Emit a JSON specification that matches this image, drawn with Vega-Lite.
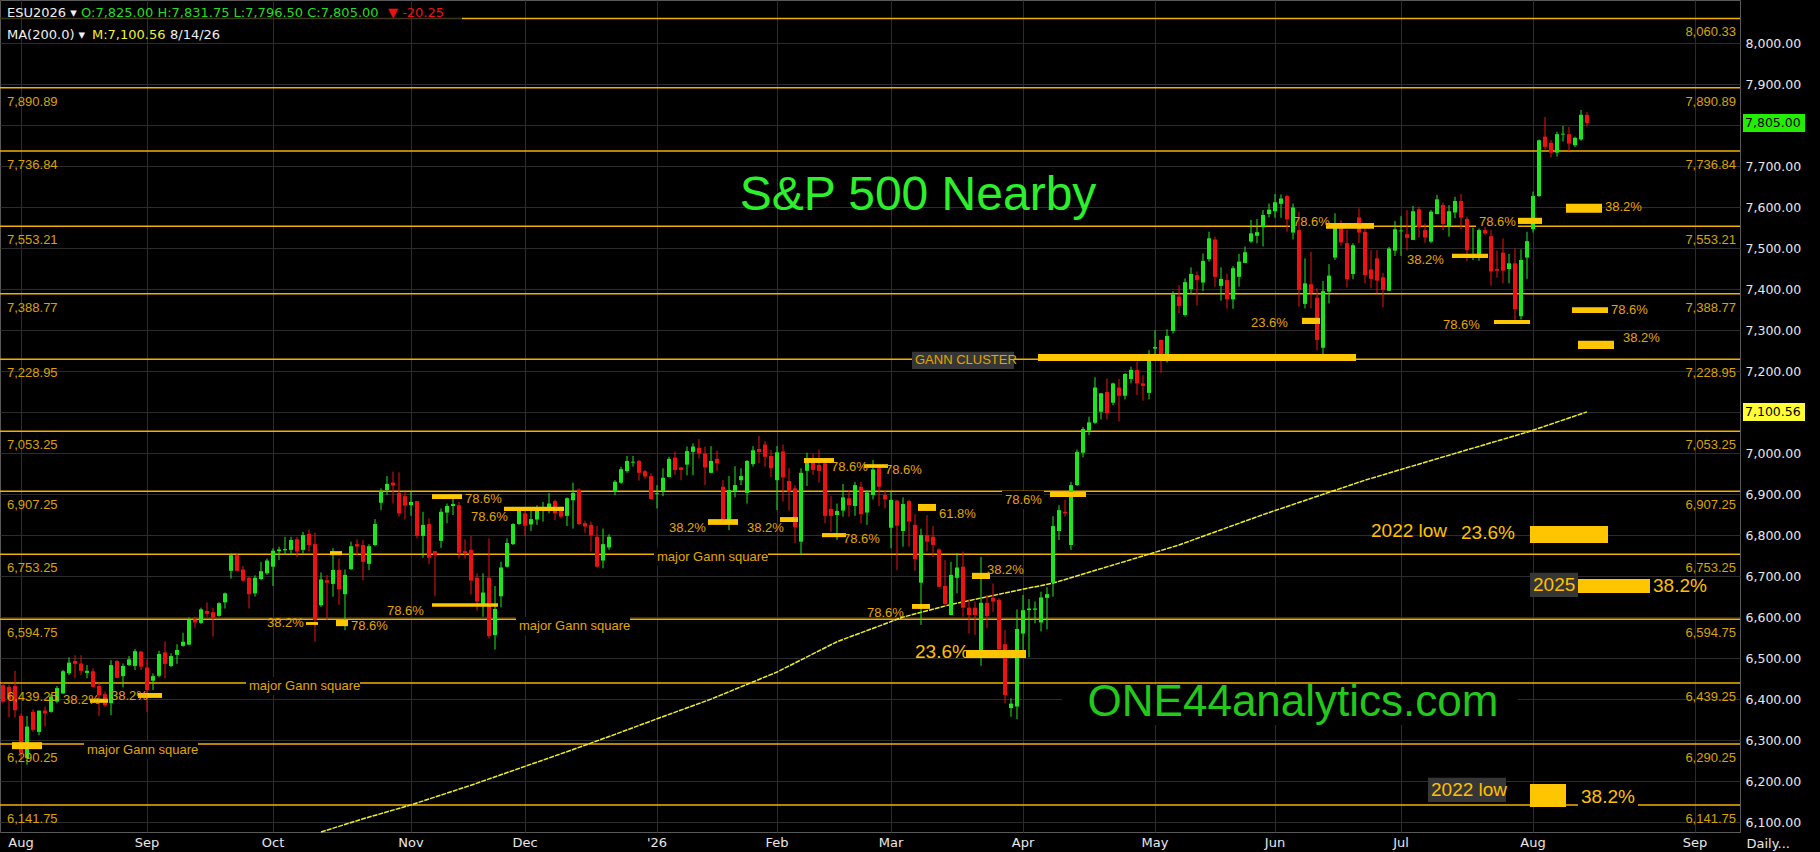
{
"$schema":"https://vega.github.io/schema/vega-lite/v6.json",
"width":1740,"height":832,
"autosize":{"type":"none"},
"padding":{"left":0,"top":0,"right":80,"bottom":20},
"background":"#000000",
"config":{"view":{"stroke":"#5a5a5a","strokeWidth":1},"scale":{"bandPaddingInner":0,"bandPaddingOuter":0}},
"datasets":{
"c":[
{"d":"2025-07-29","o":6434,"h":6440,"l":6390,"c":6394},
{"d":"2025-07-30","o":6430,"h":6435,"l":6356,"c":6400},
{"d":"2025-07-31","o":6432,"h":6469,"l":6355,"c":6373},
{"d":"2025-08-01","o":6359,"h":6365,"l":6252,"c":6268},
{"d":"2025-08-04","o":6256,"h":6359,"l":6240,"c":6333},
{"d":"2025-08-05","o":6369,"h":6375,"l":6320,"c":6325},
{"d":"2025-08-06","o":6320,"h":6372,"l":6312,"c":6372},
{"d":"2025-08-07","o":6372,"h":6382,"l":6333,"c":6365},
{"d":"2025-08-08","o":6369,"h":6412,"l":6367,"c":6406},
{"d":"2025-08-11","o":6394,"h":6432,"l":6390,"c":6427},
{"d":"2025-08-12","o":6414,"h":6471,"l":6412,"c":6468},
{"d":"2025-08-13","o":6463,"h":6502,"l":6459,"c":6489},
{"d":"2025-08-14","o":6493,"h":6507,"l":6451,"c":6486},
{"d":"2025-08-15","o":6487,"h":6507,"l":6459,"c":6469},
{"d":"2025-08-18","o":6464,"h":6483,"l":6451,"c":6469},
{"d":"2025-08-19","o":6468,"h":6475,"l":6429,"c":6430},
{"d":"2025-08-20","o":6432,"h":6440,"l":6359,"c":6410},
{"d":"2025-08-21","o":6412,"h":6418,"l":6381,"c":6385},
{"d":"2025-08-22","o":6390,"h":6495,"l":6361,"c":6483},
{"d":"2025-08-25","o":6493,"h":6495,"l":6451,"c":6452},
{"d":"2025-08-26","o":6456,"h":6487,"l":6429,"c":6481},
{"d":"2025-08-27","o":6483,"h":6505,"l":6481,"c":6497},
{"d":"2025-08-28","o":6481,"h":6522,"l":6471,"c":6517},
{"d":"2025-08-29","o":6516,"h":6518,"l":6471,"c":6479},
{"d":"2025-09-02","o":6477,"h":6497,"l":6369,"c":6422},
{"d":"2025-09-03","o":6445,"h":6463,"l":6422,"c":6456},
{"d":"2025-09-04","o":6457,"h":6518,"l":6453,"c":6510},
{"d":"2025-09-05","o":6514,"h":6541,"l":6451,"c":6486},
{"d":"2025-09-08","o":6481,"h":6512,"l":6478,"c":6505},
{"d":"2025-09-09","o":6508,"h":6534,"l":6486,"c":6520},
{"d":"2025-09-10","o":6530,"h":6562,"l":6528,"c":6540},
{"d":"2025-09-11","o":6533,"h":6599,"l":6532,"c":6593},
{"d":"2025-09-12","o":6594,"h":6601,"l":6574,"c":6587},
{"d":"2025-09-15","o":6586,"h":6623,"l":6583,"c":6619},
{"d":"2025-09-16","o":6615,"h":6636,"l":6601,"c":6608},
{"d":"2025-09-17","o":6612,"h":6623,"l":6552,"c":6599},
{"d":"2025-09-18","o":6603,"h":6636,"l":6601,"c":6634},
{"d":"2025-09-19","o":6636,"h":6660,"l":6621,"c":6658},
{"d":"2025-09-22","o":6713,"h":6755,"l":6694,"c":6751},
{"d":"2025-09-23","o":6751,"h":6755,"l":6712,"c":6713},
{"d":"2025-09-24","o":6716,"h":6725,"l":6686,"c":6689},
{"d":"2025-09-25","o":6696,"h":6699,"l":6621,"c":6656},
{"d":"2025-09-26","o":6658,"h":6702,"l":6650,"c":6696},
{"d":"2025-09-29","o":6693,"h":6735,"l":6690,"c":6712},
{"d":"2025-09-30","o":6707,"h":6743,"l":6703,"c":6738},
{"d":"2025-10-01","o":6723,"h":6768,"l":6676,"c":6762},
{"d":"2025-10-02","o":6761,"h":6772,"l":6739,"c":6765},
{"d":"2025-10-03","o":6763,"h":6796,"l":6752,"c":6766},
{"d":"2025-10-06","o":6764,"h":6796,"l":6751,"c":6788},
{"d":"2025-10-07","o":6790,"h":6796,"l":6747,"c":6760},
{"d":"2025-10-08","o":6764,"h":6808,"l":6755,"c":6800},
{"d":"2025-10-09","o":6803,"h":6814,"l":6760,"c":6776},
{"d":"2025-10-10","o":6778,"h":6806,"l":6540,"c":6593},
{"d":"2025-10-13","o":6629,"h":6709,"l":6625,"c":6692},
{"d":"2025-10-14","o":6690,"h":6703,"l":6593,"c":6684},
{"d":"2025-10-15","o":6681,"h":6768,"l":6650,"c":6715},
{"d":"2025-10-16","o":6715,"h":6743,"l":6630,"c":6668},
{"d":"2025-10-17","o":6656,"h":6716,"l":6568,"c":6703},
{"d":"2025-10-20","o":6717,"h":6784,"l":6715,"c":6773},
{"d":"2025-10-21","o":6778,"h":6790,"l":6751,"c":6772},
{"d":"2025-10-22","o":6776,"h":6788,"l":6690,"c":6735},
{"d":"2025-10-23","o":6730,"h":6778,"l":6715,"c":6773},
{"d":"2025-10-24","o":6776,"h":6839,"l":6773,"c":6827},
{"d":"2025-10-27","o":6879,"h":6914,"l":6861,"c":6908},
{"d":"2025-10-28","o":6910,"h":6944,"l":6898,"c":6925},
{"d":"2025-10-29","o":6928,"h":6955,"l":6877,"c":6921},
{"d":"2025-10-30","o":6903,"h":6953,"l":6845,"c":6853},
{"d":"2025-10-31","o":6895,"h":6906,"l":6838,"c":6872},
{"d":"2025-11-03","o":6873,"h":6906,"l":6847,"c":6881},
{"d":"2025-11-04","o":6883,"h":6883,"l":6792,"c":6798},
{"d":"2025-11-05","o":6798,"h":6857,"l":6745,"c":6825},
{"d":"2025-11-06","o":6827,"h":6841,"l":6729,"c":6745},
{"d":"2025-11-07","o":6761,"h":6761,"l":6651,"c":6751},
{"d":"2025-11-10","o":6786,"h":6865,"l":6769,"c":6857},
{"d":"2025-11-11","o":6855,"h":6877,"l":6829,"c":6871},
{"d":"2025-11-12","o":6871,"h":6900,"l":6849,"c":6876},
{"d":"2025-11-13","o":6873,"h":6881,"l":6743,"c":6757},
{"d":"2025-11-14","o":6761,"h":6790,"l":6743,"c":6754},
{"d":"2025-11-17","o":6764,"h":6798,"l":6655,"c":6689},
{"d":"2025-11-18","o":6696,"h":6707,"l":6616,"c":6638},
{"d":"2025-11-19","o":6627,"h":6707,"l":6601,"c":6660},
{"d":"2025-11-20","o":6696,"h":6792,"l":6548,"c":6554},
{"d":"2025-11-21","o":6556,"h":6676,"l":6521,"c":6620},
{"d":"2025-11-24","o":6651,"h":6735,"l":6624,"c":6721},
{"d":"2025-11-25","o":6723,"h":6792,"l":6721,"c":6781},
{"d":"2025-11-26","o":6778,"h":6829,"l":6776,"c":6827},
{"d":"2025-11-28","o":6827,"h":6865,"l":6825,"c":6859},
{"d":"2025-12-01","o":6853,"h":6861,"l":6798,"c":6823},
{"d":"2025-12-02","o":6826,"h":6865,"l":6810,"c":6839},
{"d":"2025-12-03","o":6838,"h":6873,"l":6825,"c":6863},
{"d":"2025-12-04","o":6865,"h":6881,"l":6833,"c":6867},
{"d":"2025-12-05","o":6861,"h":6903,"l":6853,"c":6877},
{"d":"2025-12-08","o":6883,"h":6887,"l":6837,"c":6853},
{"d":"2025-12-09","o":6863,"h":6869,"l":6841,"c":6845},
{"d":"2025-12-10","o":6847,"h":6892,"l":6822,"c":6890},
{"d":"2025-12-11","o":6885,"h":6928,"l":6816,"c":6903},
{"d":"2025-12-12","o":6911,"h":6914,"l":6825,"c":6827},
{"d":"2025-12-15","o":6829,"h":6835,"l":6806,"c":6821},
{"d":"2025-12-16","o":6825,"h":6833,"l":6760,"c":6799},
{"d":"2025-12-17","o":6796,"h":6822,"l":6721,"c":6723},
{"d":"2025-12-18","o":6738,"h":6816,"l":6719,"c":6778},
{"d":"2025-12-19","o":6770,"h":6802,"l":6764,"c":6796},
{"d":"2025-12-22","o":6906,"h":6934,"l":6898,"c":6930},
{"d":"2025-12-23","o":6928,"h":6967,"l":6925,"c":6961},
{"d":"2025-12-24","o":6956,"h":6993,"l":6952,"c":6981},
{"d":"2025-12-26","o":6977,"h":6993,"l":6967,"c":6979},
{"d":"2025-12-29","o":6981,"h":6983,"l":6933,"c":6952},
{"d":"2025-12-30","o":6956,"h":6959,"l":6938,"c":6943},
{"d":"2025-12-31","o":6944,"h":6951,"l":6888,"c":6888},
{"d":"2026-01-02","o":6900,"h":6922,"l":6865,"c":6902},
{"d":"2026-01-05","o":6908,"h":6963,"l":6895,"c":6940},
{"d":"2026-01-06","o":6942,"h":6991,"l":6941,"c":6986},
{"d":"2026-01-07","o":6989,"h":7003,"l":6947,"c":6959},
{"d":"2026-01-08","o":6965,"h":6967,"l":6934,"c":6959},
{"d":"2026-01-09","o":6972,"h":7016,"l":6946,"c":7005},
{"d":"2026-01-12","o":7003,"h":7024,"l":6946,"c":7016},
{"d":"2026-01-13","o":7013,"h":7034,"l":6987,"c":6999},
{"d":"2026-01-14","o":6999,"h":7016,"l":6922,"c":6965},
{"d":"2026-01-15","o":6952,"h":7017,"l":6951,"c":6981},
{"d":"2026-01-16","o":6986,"h":7006,"l":6957,"c":6975},
{"d":"2026-01-20","o":6918,"h":6934,"l":6827,"c":6827},
{"d":"2026-01-21","o":6835,"h":6944,"l":6812,"c":6910},
{"d":"2026-01-22","o":6908,"h":6968,"l":6892,"c":6922},
{"d":"2026-01-23","o":6934,"h":6963,"l":6922,"c":6944},
{"d":"2026-01-26","o":6903,"h":6983,"l":6877,"c":6981},
{"d":"2026-01-27","o":6973,"h":7017,"l":6967,"c":7007},
{"d":"2026-01-28","o":7010,"h":7042,"l":6975,"c":7003},
{"d":"2026-01-29","o":7021,"h":7029,"l":6967,"c":6991},
{"d":"2026-01-30","o":6993,"h":7008,"l":6942,"c":6963},
{"d":"2026-02-02","o":6934,"h":7017,"l":6861,"c":7002},
{"d":"2026-02-03","o":7004,"h":7021,"l":6882,"c":6941},
{"d":"2026-02-04","o":6932,"h":6963,"l":6860,"c":6906},
{"d":"2026-02-05","o":6914,"h":6922,"l":6781,"c":6819},
{"d":"2026-02-06","o":6784,"h":6963,"l":6751,"c":6952},
{"d":"2026-02-09","o":6957,"h":7001,"l":6920,"c":6983},
{"d":"2026-02-10","o":6983,"h":6999,"l":6947,"c":6959},
{"d":"2026-02-11","o":6971,"h":7009,"l":6928,"c":6957},
{"d":"2026-02-12","o":6975,"h":6985,"l":6829,"c":6847},
{"d":"2026-02-13","o":6864,"h":6895,"l":6808,"c":6847},
{"d":"2026-02-17","o":6849,"h":6877,"l":6788,"c":6859},
{"d":"2026-02-18","o":6860,"h":6925,"l":6845,"c":6892},
{"d":"2026-02-19","o":6890,"h":6910,"l":6845,"c":6873},
{"d":"2026-02-20","o":6871,"h":6930,"l":6847,"c":6922},
{"d":"2026-02-23","o":6918,"h":6930,"l":6829,"c":6851},
{"d":"2026-02-24","o":6855,"h":6910,"l":6825,"c":6904},
{"d":"2026-02-25","o":6898,"h":6983,"l":6887,"c":6960},
{"d":"2026-02-26","o":6963,"h":6969,"l":6871,"c":6918},
{"d":"2026-02-27","o":6898,"h":6910,"l":6865,"c":6887},
{"d":"2026-03-02","o":6818,"h":6908,"l":6768,"c":6886},
{"d":"2026-03-03","o":6884,"h":6886,"l":6715,"c":6823},
{"d":"2026-03-04","o":6810,"h":6892,"l":6772,"c":6876},
{"d":"2026-03-05","o":6883,"h":6886,"l":6772,"c":6833},
{"d":"2026-03-06","o":6825,"h":6851,"l":6713,"c":6741},
{"d":"2026-03-09","o":6684,"h":6816,"l":6581,"c":6800},
{"d":"2026-03-10","o":6800,"h":6849,"l":6760,"c":6784},
{"d":"2026-03-11","o":6796,"h":6822,"l":6747,"c":6776},
{"d":"2026-03-12","o":6765,"h":6768,"l":6674,"c":6674},
{"d":"2026-03-13","o":6676,"h":6739,"l":6627,"c":6632},
{"d":"2026-03-16","o":6605,"h":6735,"l":6605,"c":6703},
{"d":"2026-03-17","o":6696,"h":6756,"l":6658,"c":6721},
{"d":"2026-03-18","o":6723,"h":6760,"l":6601,"c":6623},
{"d":"2026-03-19","o":6623,"h":6644,"l":6560,"c":6605},
{"d":"2026-03-20","o":6623,"h":6638,"l":6556,"c":6605},
{"d":"2026-03-23","o":6508,"h":6747,"l":6481,"c":6635},
{"d":"2026-03-24","o":6635,"h":6654,"l":6573,"c":6603},
{"d":"2026-03-25","o":6647,"h":6682,"l":6613,"c":6638},
{"d":"2026-03-26","o":6642,"h":6646,"l":6516,"c":6521},
{"d":"2026-03-27","o":6534,"h":6569,"l":6390,"c":6410},
{"d":"2026-03-30","o":6378,"h":6402,"l":6357,"c":6389},
{"d":"2026-03-31","o":6382,"h":6619,"l":6351,"c":6571},
{"d":"2026-04-01","o":6560,"h":6654,"l":6502,"c":6617},
{"d":"2026-04-02","o":6617,"h":6644,"l":6502,"c":6621},
{"d":"2026-04-03","o":6618,"h":6638,"l":6585,"c":6621},
{"d":"2026-04-06","o":6587,"h":6662,"l":6565,"c":6648},
{"d":"2026-04-07","o":6647,"h":6673,"l":6570,"c":6656},
{"d":"2026-04-08","o":6684,"h":6846,"l":6650,"c":6822},
{"d":"2026-04-09","o":6810,"h":6873,"l":6788,"c":6861},
{"d":"2026-04-10","o":6857,"h":6886,"l":6845,"c":6853},
{"d":"2026-04-13","o":6776,"h":6930,"l":6764,"c":6922},
{"d":"2026-04-14","o":6922,"h":7009,"l":6920,"c":7003},
{"d":"2026-04-15","o":7001,"h":7064,"l":6990,"c":7059},
{"d":"2026-04-16","o":7055,"h":7089,"l":7044,"c":7075},
{"d":"2026-04-17","o":7074,"h":7185,"l":7071,"c":7160},
{"d":"2026-04-20","o":7101,"h":7147,"l":7082,"c":7146},
{"d":"2026-04-21","o":7149,"h":7182,"l":7082,"c":7097},
{"d":"2026-04-22","o":7123,"h":7172,"l":7117,"c":7170},
{"d":"2026-04-23","o":7160,"h":7181,"l":7077,"c":7140},
{"d":"2026-04-24","o":7140,"h":7195,"l":7131,"c":7193},
{"d":"2026-04-27","o":7181,"h":7211,"l":7170,"c":7203},
{"d":"2026-04-28","o":7203,"h":7223,"l":7142,"c":7170},
{"d":"2026-04-29","o":7170,"h":7190,"l":7128,"c":7164},
{"d":"2026-04-30","o":7147,"h":7251,"l":7131,"c":7242},
{"d":"2026-05-01","o":7255,"h":7300,"l":7237,"c":7259},
{"d":"2026-05-04","o":7276,"h":7277,"l":7196,"c":7227},
{"d":"2026-05-05","o":7227,"h":7302,"l":7221,"c":7286},
{"d":"2026-05-06","o":7298,"h":7395,"l":7292,"c":7387},
{"d":"2026-05-07","o":7382,"h":7410,"l":7341,"c":7359},
{"d":"2026-05-08","o":7337,"h":7426,"l":7333,"c":7417},
{"d":"2026-05-11","o":7400,"h":7453,"l":7388,"c":7437},
{"d":"2026-05-12","o":7434,"h":7443,"l":7360,"c":7422},
{"d":"2026-05-13","o":7416,"h":7487,"l":7395,"c":7469},
{"d":"2026-05-14","o":7473,"h":7540,"l":7467,"c":7524},
{"d":"2026-05-15","o":7521,"h":7528,"l":7406,"c":7430},
{"d":"2026-05-18","o":7408,"h":7453,"l":7372,"c":7425},
{"d":"2026-05-19","o":7422,"h":7438,"l":7352,"c":7375},
{"d":"2026-05-20","o":7375,"h":7456,"l":7352,"c":7451},
{"d":"2026-05-21","o":7430,"h":7486,"l":7406,"c":7467},
{"d":"2026-05-22","o":7464,"h":7504,"l":7464,"c":7490},
{"d":"2026-05-26","o":7516,"h":7569,"l":7513,"c":7536},
{"d":"2026-05-27","o":7530,"h":7571,"l":7512,"c":7539},
{"d":"2026-05-28","o":7551,"h":7593,"l":7504,"c":7581},
{"d":"2026-05-29","o":7583,"h":7609,"l":7575,"c":7594},
{"d":"2026-06-01","o":7590,"h":7632,"l":7574,"c":7612},
{"d":"2026-06-02","o":7608,"h":7631,"l":7574,"c":7621},
{"d":"2026-06-03","o":7627,"h":7630,"l":7540,"c":7570},
{"d":"2026-06-04","o":7538,"h":7609,"l":7521,"c":7599},
{"d":"2026-06-05","o":7544,"h":7589,"l":7357,"c":7398},
{"d":"2026-06-08","o":7364,"h":7475,"l":7353,"c":7414},
{"d":"2026-06-09","o":7412,"h":7491,"l":7353,"c":7391},
{"d":"2026-06-10","o":7379,"h":7402,"l":7251,"c":7276},
{"d":"2026-06-11","o":7257,"h":7420,"l":7231,"c":7395},
{"d":"2026-06-12","o":7394,"h":7461,"l":7365,"c":7433},
{"d":"2026-06-15","o":7477,"h":7585,"l":7471,"c":7560},
{"d":"2026-06-16","o":7559,"h":7568,"l":7506,"c":7514},
{"d":"2026-06-17","o":7512,"h":7544,"l":7404,"c":7424},
{"d":"2026-06-18","o":7437,"h":7512,"l":7424,"c":7507},
{"d":"2026-06-22","o":7575,"h":7597,"l":7512,"c":7538},
{"d":"2026-06-23","o":7540,"h":7548,"l":7414,"c":7434},
{"d":"2026-06-24","o":7448,"h":7495,"l":7402,"c":7425},
{"d":"2026-06-25","o":7475,"h":7495,"l":7390,"c":7421},
{"d":"2026-06-26","o":7429,"h":7440,"l":7356,"c":7398},
{"d":"2026-06-29","o":7396,"h":7503,"l":7396,"c":7499},
{"d":"2026-06-30","o":7494,"h":7566,"l":7481,"c":7546},
{"d":"2026-07-01","o":7541,"h":7578,"l":7481,"c":7543},
{"d":"2026-07-02","o":7534,"h":7593,"l":7495,"c":7525},
{"d":"2026-07-06","o":7520,"h":7603,"l":7520,"c":7590},
{"d":"2026-07-07","o":7595,"h":7601,"l":7526,"c":7552},
{"d":"2026-07-08","o":7544,"h":7560,"l":7513,"c":7526},
{"d":"2026-07-09","o":7516,"h":7593,"l":7512,"c":7589},
{"d":"2026-07-10","o":7583,"h":7630,"l":7583,"c":7619},
{"d":"2026-07-13","o":7605,"h":7611,"l":7544,"c":7559},
{"d":"2026-07-14","o":7554,"h":7605,"l":7528,"c":7590},
{"d":"2026-07-15","o":7587,"h":7625,"l":7573,"c":7615},
{"d":"2026-07-16","o":7615,"h":7632,"l":7546,"c":7574},
{"d":"2026-07-17","o":7571,"h":7577,"l":7469,"c":7495},
{"d":"2026-07-20","o":7479,"h":7550,"l":7471,"c":7483},
{"d":"2026-07-21","o":7481,"h":7548,"l":7469,"c":7544},
{"d":"2026-07-22","o":7544,"h":7552,"l":7532,"c":7536},
{"d":"2026-07-23","o":7529,"h":7544,"l":7408,"c":7443},
{"d":"2026-07-24","o":7449,"h":7494,"l":7428,"c":7445},
{"d":"2026-07-27","o":7489,"h":7524,"l":7414,"c":7445},
{"d":"2026-07-28","o":7449,"h":7486,"l":7414,"c":7463},
{"d":"2026-07-29","o":7463,"h":7499,"l":7321,"c":7351},
{"d":"2026-07-30","o":7334,"h":7497,"l":7326,"c":7471},
{"d":"2026-07-31","o":7477,"h":7540,"l":7425,"c":7517},
{"d":"2026-08-03","o":7546,"h":7638,"l":7538,"c":7627},
{"d":"2026-08-04","o":7627,"h":7765,"l":7625,"c":7763},
{"d":"2026-08-05","o":7772,"h":7820,"l":7741,"c":7747},
{"d":"2026-08-06","o":7757,"h":7764,"l":7721,"c":7733},
{"d":"2026-08-07","o":7733,"h":7784,"l":7723,"c":7778},
{"d":"2026-08-10","o":7777,"h":7798,"l":7760,"c":7779},
{"d":"2026-08-11","o":7778,"h":7796,"l":7737,"c":7755},
{"d":"2026-08-12","o":7751,"h":7772,"l":7746,"c":7769},
{"d":"2026-08-13","o":7765,"h":7837,"l":7762,"c":7825.25},
{"d":"2026-08-14","o":7825,"h":7831.75,"l":7796.5,"c":7805},
{"d":"2026-08-15"},{"d":"2026-08-16"},{"d":"2026-08-17"},{"d":"2026-08-18"},{"d":"2026-08-19"},{"d":"2026-08-20"},{"d":"2026-08-21"},{"d":"2026-08-22"},{"d":"2026-08-23"},{"d":"2026-08-24"},{"d":"2026-08-25"},{"d":"2026-08-26"},{"d":"2026-08-27"},{"d":"2026-08-28"},{"d":"2026-08-29"},{"d":"2026-08-30"},{"d":"2026-08-31"},
{"d":"2026-09-01"},{"d":"2026-09-02"},{"d":"2026-09-03"},{"d":"2026-09-04"},{"d":"2026-09-05"},{"d":"2026-09-06"},{"d":"2026-09-07"},{"d":"2026-09-08"}
],
"ma":[
{"d":"2025-10-13","ma":6076},{"d":"2025-10-22","ma":6108},{"d":"2025-11-03","ma":6142},{"d":"2025-11-17","ma":6190},
{"d":"2025-12-01","ma":6236},{"d":"2025-12-11","ma":6277},{"d":"2025-12-22","ma":6314},{"d":"2026-01-02","ma":6352},
{"d":"2026-01-15","ma":6400},{"d":"2026-02-02","ma":6466},{"d":"2026-02-17","ma":6540},{"d":"2026-03-04","ma":6600},
{"d":"2026-03-16","ma":6631},{"d":"2026-03-27","ma":6659},{"d":"2026-04-08","ma":6683},{"d":"2026-04-22","ma":6727},
{"d":"2026-05-07","ma":6776},{"d":"2026-05-28","ma":6850},{"d":"2026-06-23","ma":6934},{"d":"2026-07-14","ma":6995},
{"d":"2026-07-31","ma":7051},{"d":"2026-08-14","ma":7100.56}
],
"gann":[{"p":7890.89},{"p":7736.84},{"p":7553.21},{"p":7388.77},{"p":7228.95},{"p":7053.25},{"p":6907.25},{"p":6753.25},{"p":6594.75},{"p":6439.25},{"p":6290.25},{"p":6141.75}],
"gannR":[{"p":8060.33},{"p":7890.89},{"p":7736.84},{"p":7553.21},{"p":7388.77},{"p":7228.95},{"p":7053.25},{"p":6907.25},{"p":6753.25},{"p":6594.75},{"p":6439.25},{"p":6290.25},{"p":6141.75}],
"bars":[
{"d1":"2025-07-31","d2":"2025-08-06","p1":6278,"p2":6295},
{"d1":"2025-08-19","d2":"2025-08-21","p1":6391,"p2":6401},
{"d1":"2025-08-29","d2":"2025-09-04","p1":6403,"p2":6415},
{"d1":"2025-10-09","d2":"2025-10-10","p1":6581,"p2":6588},
{"d1":"2025-10-15","d2":"2025-10-16","p1":6751,"p2":6761},
{"d1":"2025-10-16","d2":"2025-10-17","p1":6578,"p2":6593},
{"d1":"2025-11-07","d2":"2025-11-13","p1":6888,"p2":6900},
{"d1":"2025-11-25","d2":"2025-12-09","p1":6859,"p2":6869},
{"d1":"2025-11-07","d2":"2025-11-21","p1":6625,"p2":6634},
{"d1":"2026-01-15","d2":"2026-01-22","p1":6825,"p2":6839},
{"d1":"2026-02-03","d2":"2026-02-05","p1":6832,"p2":6844},
{"d1":"2026-02-09","d2":"2026-02-13","p1":6976,"p2":6988},
{"d1":"2026-02-24","d2":"2026-02-27","p1":6964,"p2":6973},
{"d1":"2026-02-12","d2":"2026-02-18","p1":6795,"p2":6805},
{"d1":"2026-03-09","d2":"2026-03-11","p1":6859,"p2":6876},
{"d1":"2026-04-08","d2":"2026-04-15","p1":6893,"p2":6905},
{"d1":"2026-03-20","d2":"2026-03-24","p1":6693,"p2":6708},
{"d1":"2026-03-06","d2":"2026-03-10","p1":6620,"p2":6632},
{"d1":"2026-03-19","d2":"2026-04-01","p1":6500,"p2":6520},
{"d1":"2026-04-06","d2":"2026-06-18","p1":7225,"p2":7242},
{"d1":"2026-06-12","d2":"2026-06-24","p1":7547,"p2":7561},
{"d1":"2026-06-08","d2":"2026-06-10","p1":7315,"p2":7330},
{"d1":"2026-07-15","d2":"2026-07-22","p1":7476,"p2":7486},
{"d1":"2026-07-24","d2":"2026-07-31","p1":7315,"p2":7325},
{"d1":"2026-07-30","d2":"2026-08-04","p1":7559,"p2":7574},
{"d1":"2026-08-11","d2":"2026-08-16","p1":7586,"p2":7608},
{"d1":"2026-08-12","d2":"2026-08-17","p1":7342,"p2":7356},
{"d1":"2026-08-13","d2":"2026-08-18","p1":7254,"p2":7274},
{"d1":"2026-08-03","d2":"2026-08-17","p1":6781,"p2":6822},
{"d1":"2026-08-13","d2":"2026-08-24","p1":6659,"p2":6693},
{"d1":"2026-08-03","d2":"2026-08-10","p1":6137,"p2":6193}
],
"bgk":[
{"d1":"2025-08-18","d2":"2025-09-12","p1":6254,"p2":6298},
{"d1":"2025-09-25","d2":"2025-10-21","p1":6410,"p2":6454},
{"d1":"2025-11-28","d2":"2025-12-24","p1":6556,"p2":6600},
{"d1":"2026-01-02","d2":"2026-01-29","p1":6725,"p2":6769},
{"d1":"2026-03-27","d2":"2026-04-06","p1":6864,"p2":6908},
{"d1":"2026-07-21","d2":"2026-07-29","p1":7542,"p2":7586},
{"d1":"2026-06-04","d2":"2026-06-12","p1":7542,"p2":7586},
{"d1":"2026-04-10","d2":"2026-07-29","p1":6337,"p2":6434},
{"d1":"2026-08-13","d2":"2026-08-22","p1":6135,"p2":6188}
],
"bgg":[
{"d1":"2026-03-06","d2":"2026-03-30","p1":7205,"p2":7247},
{"d1":"2026-08-03","d2":"2026-08-12","p1":6649,"p2":6708},
{"d1":"2026-07-09","d2":"2026-07-27","p1":6149,"p2":6208}
],
"ts":[
{"d":"2025-08-12","p":6398,"t":"38.2%"},
{"d":"2025-08-22","p":6408,"t":"38.2%"},
{"d":"2025-09-25","p":6432,"t":"major Gann square"},
{"d":"2025-08-18","p":6276,"t":"major Gann square"},
{"d":"2025-09-30","p":6586,"t":"38.2%"},
{"d":"2025-10-20","p":6578,"t":"78.6%"},
{"d":"2025-10-28","p":6615,"t":"78.6%"},
{"d":"2025-11-14","p":6888,"t":"78.6%"},
{"d":"2025-11-17","p":6844,"t":"78.6%"},
{"d":"2025-11-28","p":6578,"t":"major Gann square"},
{"d":"2026-01-02","p":6747,"t":"major Gann square"},
{"d":"2026-01-06","p":6817,"t":"38.2%"},
{"d":"2026-01-26","p":6817,"t":"38.2%"},
{"d":"2026-02-13","p":6966,"t":"78.6%"},
{"d":"2026-02-27","p":6959,"t":"78.6%"},
{"d":"2026-02-18","p":6791,"t":"78.6%"},
{"d":"2026-03-12","p":6852,"t":"61.8%"},
{"d":"2026-03-27","p":6886,"t":"78.6%"},
{"d":"2026-03-24","p":6715,"t":"38.2%"},
{"d":"2026-02-24","p":6610,"t":"78.6%"},
{"d":"2026-03-06","p":7227,"t":"GANN CLUSTER"},
{"d":"2026-06-04","p":7564,"t":"78.6%"},
{"d":"2026-07-21","p":7564,"t":"78.6%"},
{"d":"2026-07-02","p":7471,"t":"38.2%"},
{"d":"2026-05-26","p":7317,"t":"23.6%"},
{"d":"2026-07-13","p":7312,"t":"78.6%"},
{"d":"2026-08-17","p":7600,"t":"38.2%"},
{"d":"2026-08-18","p":7349,"t":"78.6%"},
{"d":"2026-08-20","p":7281,"t":"38.2%"}
],
"tb":[
{"d":"2026-03-06","p":6515,"t":"23.6%"},
{"d":"2026-06-24","p":6810,"t":"2022 low"},
{"d":"2026-07-16","p":6805,"t":"23.6%"},
{"d":"2026-08-03","p":6678,"t":"2025"},
{"d":"2026-08-25","p":6676,"t":"38.2%"},
{"d":"2026-07-09","p":6178,"t":"2022 low"},
{"d":"2026-08-13","p":6161,"t":"38.2%"}
]
},
"layer":[
{"data":{"name":"c"},"mark":{"type":"text","text":""},
 "encoding":{"x":{"field":"d","type":"ordinal","scale":{"type":"band"},
   "axis":{"orient":"bottom","values":["2025-08-01","2025-09-02","2025-10-01","2025-11-03","2025-12-01","2026-01-02","2026-02-02","2026-03-02","2026-04-01","2026-05-01","2026-06-01","2026-07-01","2026-08-03","2026-09-01"],
   "labelExpr":"substring(datum.value,5,7)=='01' ? \"'26\" : ['Jan','Feb','Mar','Apr','May','Jun','Jul','Aug','Sep','Oct','Nov','Dec'][toNumber(substring(datum.value,5,7))-1]",
   "grid":true,"gridColor":"#2c2c2c","gridWidth":1,"ticks":false,"tickSize":0,"domain":false,"labelAngle":0,
   "labelColor":"#e8e8e8","labelFont":"DejaVu Sans","labelFontSize":13,"labelPadding":4,
   "title":"Daily...","titleColor":"#e8e8e8","titleFont":"DejaVu Sans","titleFontSize":13,"titleFontWeight":"normal",
   "titleX":1746,"titleY":11,"titleAlign":"left","titleBaseline":"middle"}}}},
{"data":{"name":"gann"},"mark":{"type":"rule","color":"#F2B000","strokeWidth":1.5},
 "encoding":{"y":{"field":"p","type":"quantitative","scale":{"domain":[6075.9,8105.2],"nice":false,"zero":false},
   "axis":{"orient":"right","values":[6100,6150,6200,6250,6300,6350,6400,6450,6500,6550,6600,6650,6700,6750,6800,6850,6900,6950,7000,7050,7100,7150,7200,7250,7300,7350,7400,7450,7500,7550,7600,7650,7700,7750,7800,7850,7900,7950,8000,8050],
   "format":",.2f","grid":true,"gridColor":"#2c2c2c","gridWidth":1,"ticks":false,"tickSize":0,"domain":false,
   "labelColor":"#e8e8e8","labelFont":"DejaVu Sans","labelFontSize":12.5,"labelPadding":5,"title":null}}}},
{"data":{"values":[{"a":"2025-11-14","b":"2026-09-08","p":8060.33}]},"mark":{"type":"rule","color":"#F2B000","strokeWidth":1.5},
 "encoding":{"x":{"field":"a","type":"ordinal","scale":{"type":"band"},"bandPosition":0},"x2":{"field":"b","bandPosition":1},"y":{"field":"p","type":"quantitative"}}},
{"data":{"values":[{"a":"2025-07-29","b":"2025-11-13","p":8060.33}]},"mark":{"type":"rule","color":"#3e3618","strokeWidth":1.5},
 "encoding":{"x":{"field":"a","type":"ordinal","scale":{"type":"band"},"bandPosition":0},"x2":{"field":"b","bandPosition":1},"y":{"field":"p","type":"quantitative"}}},
{"data":{"name":"bgk"},"mark":{"type":"rect","color":"#000000"},
 "encoding":{"x":{"field":"d1","type":"ordinal","scale":{"type":"band"},"bandPosition":0},"x2":{"field":"d2","bandPosition":1},"y":{"field":"p1","type":"quantitative"},"y2":{"field":"p2"}}},
{"data":{"name":"bgg"},"mark":{"type":"rect","color":"#363636"},
 "encoding":{"x":{"field":"d1","type":"ordinal","scale":{"type":"band"},"bandPosition":0},"x2":{"field":"d2","bandPosition":1},"y":{"field":"p1","type":"quantitative"},"y2":{"field":"p2"}}},
{"data":{"name":"ma"},"mark":{"type":"line","color":"#EDED2A","strokeWidth":1.5,"strokeDash":[5,1]},
 "encoding":{"x":{"field":"d","type":"ordinal","scale":{"type":"band"}},"y":{"field":"ma","type":"quantitative"}}},
{"data":{"name":"c"},"mark":{"type":"rule","strokeWidth":1},
 "encoding":{"x":{"field":"d","type":"ordinal","scale":{"type":"band"}},"y":{"field":"l","type":"quantitative"},"y2":{"field":"h"},
  "color":{"condition":{"test":"datum.c >= datum.o","value":"#1EE61E"},"value":"#EE1111"}}},
{"data":{"name":"c"},"mark":{"type":"bar","width":4},
 "encoding":{"x":{"field":"d","type":"ordinal","scale":{"type":"band"}},"y":{"field":"o","type":"quantitative"},"y2":{"field":"c"},
  "color":{"condition":{"test":"datum.c >= datum.o","value":"#1EE61E"},"value":"#EE1111"}}},
{"data":{"name":"bars"},"mark":{"type":"rect","color":"#FFC600"},
 "encoding":{"x":{"field":"d1","type":"ordinal","scale":{"type":"band"},"bandPosition":0},"x2":{"field":"d2","bandPosition":1},"y":{"field":"p1","type":"quantitative"},"y2":{"field":"p2"}}},
{"data":{"name":"ts"},"mark":{"type":"text","align":"left","baseline":"middle","font":"Liberation Sans","fontSize":13,"color":"#E3A600"},
 "encoding":{"x":{"field":"d","type":"ordinal","scale":{"type":"band"}},"y":{"field":"p","type":"quantitative"},"text":{"field":"t"}}},
{"data":{"name":"tb"},"mark":{"type":"text","align":"left","baseline":"middle","font":"Liberation Sans","fontSize":19,"color":"#FFC000"},
 "encoding":{"x":{"field":"d","type":"ordinal","scale":{"type":"band"}},"y":{"field":"p","type":"quantitative"},"text":{"field":"t"}}},
{"data":{"name":"gann"},"mark":{"type":"text","align":"left","baseline":"middle","dx":4,"dy":14,"font":"Liberation Sans","fontSize":13,"color":"#D9A300"},
 "encoding":{"x":{"datum":"2025-07-29","type":"ordinal","scale":{"type":"band"}},"y":{"field":"p","type":"quantitative"},"text":{"field":"p","type":"quantitative","format":",.2f"}}},
{"data":{"name":"gannR"},"mark":{"type":"text","align":"right","baseline":"middle","dx":-1,"dy":14,"font":"Liberation Sans","fontSize":13,"color":"#D9A300"},
 "encoding":{"x":{"datum":"2026-09-08","type":"ordinal","scale":{"type":"band"}},"y":{"field":"p","type":"quantitative"},"text":{"field":"p","type":"quantitative","format":",.2f"}}},
{"data":{"values":[{"d":"2026-03-06","p":7593,"t":"S&P 500 Nearby"}]},"mark":{"type":"text","align":"center","baseline":"alphabetic","dx":3,"font":"Liberation Sans","fontSize":48,"color":"#2BF02B"},
 "encoding":{"x":{"field":"d","type":"ordinal","scale":{"type":"band"}},"y":{"field":"p","type":"quantitative"},"text":{"field":"t"}}},
{"data":{"values":[{"d":"2026-06-04","p":6359,"t":"ONE44analytics.com"}]},"mark":{"type":"text","align":"center","baseline":"alphabetic","font":"Liberation Sans","fontSize":44,"color":"#22C81C"},
 "encoding":{"x":{"field":"d","type":"ordinal","scale":{"type":"band"}},"y":{"field":"p","type":"quantitative"},"text":{"field":"t"}}},
{"data":{"values":[{"d":"2025-07-29","p":8072.3,"t":"ESU2026 ▾"},{"d":"2025-07-29","p":8019.8,"t":"MA(200.0) ▾"}]},"mark":{"type":"text","align":"left","baseline":"middle","dx":4,"font":"DejaVu Sans","fontSize":13,"color":"#f0f0f0"},
 "encoding":{"x":{"field":"d","type":"ordinal","scale":{"type":"band"}},"y":{"field":"p","type":"quantitative"},"text":{"field":"t"}}},
{"data":{"values":[{"d":"2025-07-29","p":8072.3,"t":"O:7,825.00 H:7,831.75 L:7,796.50 C:7,805.00"}]},"mark":{"type":"text","align":"left","baseline":"middle","dx":78,"font":"DejaVu Sans","fontSize":13,"color":"#22DD22"},
 "encoding":{"x":{"field":"d","type":"ordinal","scale":{"type":"band"}},"y":{"field":"p","type":"quantitative"},"text":{"field":"t"}}},
{"data":{"values":[{"d":"2025-07-29","p":8072.3,"t":"▼ -20.25"}]},"mark":{"type":"text","align":"left","baseline":"middle","dx":385,"font":"DejaVu Sans","fontSize":13,"color":"#EE1111"},
 "encoding":{"x":{"field":"d","type":"ordinal","scale":{"type":"band"}},"y":{"field":"p","type":"quantitative"},"text":{"field":"t"}}},
{"data":{"values":[{"d":"2025-07-29","p":8019.8,"t":"M:7,100.56"}]},"mark":{"type":"text","align":"left","baseline":"middle","dx":89,"font":"DejaVu Sans","fontSize":13,"color":"#F0F030"},
 "encoding":{"x":{"field":"d","type":"ordinal","scale":{"type":"band"}},"y":{"field":"p","type":"quantitative"},"text":{"field":"t"}}},
{"data":{"values":[{"d":"2025-07-29","p":8019.8,"t":"8/14/26"}]},"mark":{"type":"text","align":"left","baseline":"middle","dx":167,"font":"DejaVu Sans","fontSize":13,"color":"#f0f0f0"},
 "encoding":{"x":{"field":"d","type":"ordinal","scale":{"type":"band"}},"y":{"field":"p","type":"quantitative"},"text":{"field":"t"}}},
{"data":{"values":[{"d":"2026-09-08","p":7805}]},"mark":{"type":"rule","color":"#22EE00","strokeWidth":18,"strokeCap":"butt","xOffset":6,"x2Offset":68},
 "encoding":{"x":{"field":"d","type":"ordinal","scale":{"type":"band"}},"x2":{"field":"d"},"y":{"field":"p","type":"quantitative"}}},
{"data":{"values":[{"d":"2026-09-08","p":7100.56}]},"mark":{"type":"rule","color":"#FFFF33","strokeWidth":18,"strokeCap":"butt","xOffset":6,"x2Offset":68},
 "encoding":{"x":{"field":"d","type":"ordinal","scale":{"type":"band"}},"x2":{"field":"d"},"y":{"field":"p","type":"quantitative"}}},
{"data":{"values":[{"d":"2026-09-08","p":7805},{"d":"2026-09-08","p":7100.56}]},"mark":{"type":"text","align":"left","baseline":"middle","dx":8,"font":"DejaVu Sans","fontSize":12.5,"color":"#000000"},
 "encoding":{"x":{"field":"d","type":"ordinal","scale":{"type":"band"}},"y":{"field":"p","type":"quantitative"},"text":{"field":"p","type":"quantitative","format":",.2f"}}}
]
}
